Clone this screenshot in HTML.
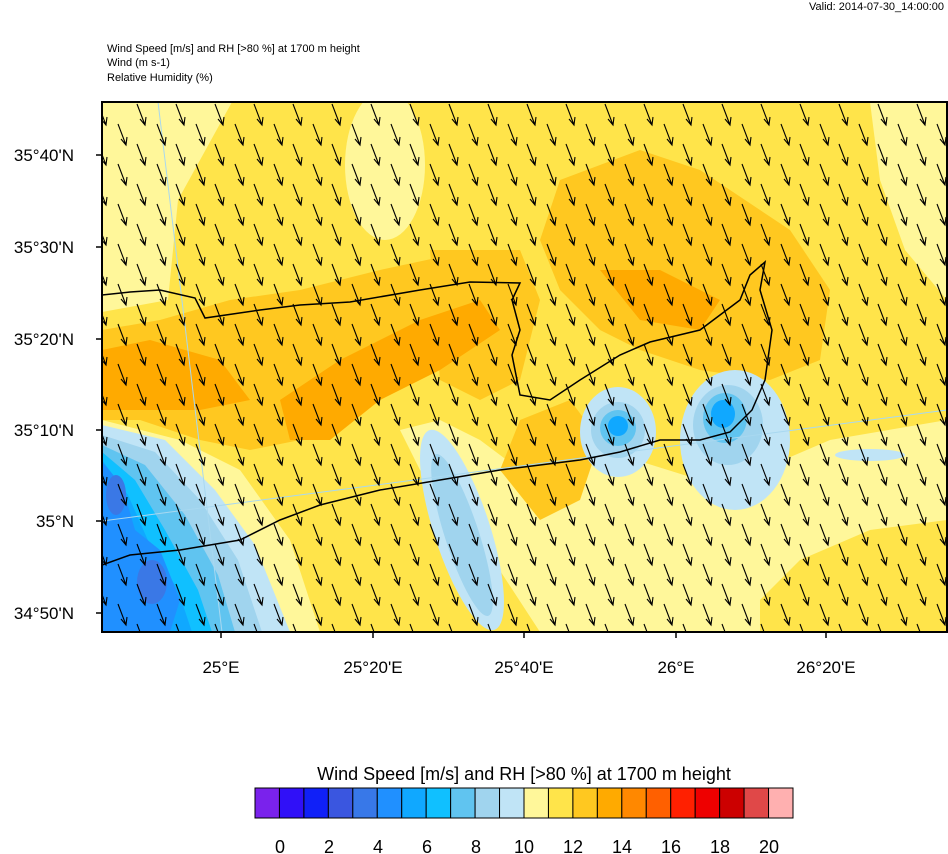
<!DOCTYPE html>
<html><head><style>
body{margin:0;background:#fff;width:948px;height:854px;overflow:hidden;font-family:"Liberation Sans",sans-serif}
</style></head><body>
<svg width="948" height="854" xmlns="http://www.w3.org/2000/svg" style="position:absolute;left:0;top:0">
<defs>
<clipPath id="c"><rect x="102" y="102" width="845" height="530"/></clipPath>
</defs>
<text x="944" y="10" font-size="11" text-anchor="end">Valid: 2014-07-30_14:00:00</text>
<text x="107" y="52" font-size="11">Wind Speed [m/s] and RH [&gt;80 %] at 1700 m height</text>
<text x="107" y="66" font-size="11">Wind   (m s-1)</text>
<text x="107" y="81" font-size="11">Relative Humidity   (%)</text>
<g clip-path="url(#c)">
<rect x="102" y="102" width="845" height="530" fill="#ffe44a"/>
<g>
<polygon points="102,102 232,102 178,200 168,300 102,312" fill="#fff79a"/>
<ellipse cx="385" cy="165" rx="40" ry="75" fill="#fff79a"/>
<polygon points="870,102 947,102 947,300 905,250 880,180" fill="#fff79a"/>
<polygon points="520,470 620,455 700,480 760,470 830,440 947,420 947,520 870,530 800,560 760,600 760,632 540,632 480,540 420,470 400,430 440,420 480,440" fill="#fff79a"/>
<polygon points="102,420 180,440 240,470 290,540 320,632 102,632" fill="#fff79a"/>
<polygon points="190,320 250,305 270,340 220,360 190,350" fill="#fff79a"/>
<polygon points="102,330 160,320 230,300 300,290 380,270 450,255 520,265 520,290 460,320 380,350 330,380 300,440 250,450 200,440 140,420 102,420" fill="#ffc820"/>
<polygon points="560,180 640,150 700,170 790,230 830,290 820,360 770,380 700,370 640,350 600,330 560,290 540,240" fill="#ffc820"/>
<polygon points="430,250 520,250 540,300 520,380 480,400 440,380" fill="#ffc820"/>
<polygon points="520,420 570,400 600,440 580,500 540,520 500,470" fill="#ffc820"/>
<polygon points="102,350 150,340 220,360 250,400 200,410 102,410" fill="#ffaa00"/>
<polygon points="280,400 340,360 420,320 480,300 500,330 440,370 380,400 330,440 290,440" fill="#ffaa00"/>
<polygon points="600,270 660,270 720,300 700,330 640,320" fill="#ffaa00"/>
<polygon points="102,425 165,440 215,490 255,545 290,632 102,632" fill="#c0e4f6"/>
<polygon points="102,435 155,452 200,500 238,560 262,632 102,632" fill="#a0d4ee"/>
<polygon points="102,445 145,465 185,515 218,575 235,632 102,632" fill="#60c4f0"/>
<polygon points="102,452 135,480 165,530 198,590 212,632 102,632" fill="#10c0ff"/>
<polygon points="102,460 128,495 150,545 178,590 192,632 102,632" fill="#10a8ff"/>
<polygon points="102,462 122,485 135,530 160,550 180,600 170,632 102,632" fill="#2090ff"/>
<ellipse cx="116" cy="495" rx="10" ry="20" fill="#3a78e6"/>
<ellipse cx="152" cy="582" rx="15" ry="22" fill="#3a78e6"/>
<ellipse cx="462" cy="530" rx="28" ry="105" fill="#c0e4f6" transform="rotate(-18 462 530)"/>
<ellipse cx="462" cy="535" rx="17" ry="85" fill="#a0d4ee" transform="rotate(-18 462 535)"/>
<ellipse cx="618" cy="432" rx="38" ry="45" fill="#c0e4f6"/>
<ellipse cx="618" cy="430" rx="27" ry="28" fill="#a0d4ee"/>
<ellipse cx="618" cy="428" rx="18" ry="18" fill="#60c4f0"/>
<ellipse cx="618" cy="426" rx="10" ry="10" fill="#10a8ff"/>
<ellipse cx="735" cy="440" rx="55" ry="70" fill="#c0e4f6"/>
<ellipse cx="728" cy="425" rx="35" ry="40" fill="#a0d4ee"/>
<ellipse cx="725" cy="418" rx="22" ry="25" fill="#60c4f0"/>
<ellipse cx="723" cy="414" rx="12" ry="14" fill="#10a8ff"/>
<ellipse cx="870" cy="455" rx="35" ry="6" fill="#c0e4f6"/>
</g>
<g stroke="#a8d8f0" stroke-width="1" fill="none">
<line x1="158" y1="102" x2="222" y2="632"/>
<line x1="102" y1="521" x2="947" y2="410"/>
</g>
<polyline fill="none" stroke="#000" stroke-width="1.5" points="102,295 130,292 160,290 195,298 205,318 260,310 300,305 350,302 420,290 470,282 520,283 512,300 520,330 512,355 520,395 550,400 580,380 620,355 650,342 700,330 740,300 750,275 765,262 760,290 772,330 765,380 752,410 730,432 700,440 660,440 620,452 580,460 540,465 500,470 440,480 380,490 320,505 280,520 240,540 180,550 130,555 102,565"/>
<g id="arrows" stroke="#000" stroke-width="1.1" fill="none"></g>
</g>
<rect x="102" y="102" width="845" height="530" fill="none" stroke="#000" stroke-width="2"/>
<g stroke="#000" stroke-width="1.5">
<line x1="96" y1="155" x2="102" y2="155"/><line x1="96" y1="247" x2="102" y2="247"/><line x1="96" y1="339" x2="102" y2="339"/><line x1="96" y1="430" x2="102" y2="430"/><line x1="96" y1="521" x2="102" y2="521"/><line x1="96" y1="613" x2="102" y2="613"/>
<line x1="221" y1="632" x2="221" y2="638"/><line x1="373" y1="632" x2="373" y2="638"/><line x1="524" y1="632" x2="524" y2="638"/><line x1="676" y1="632" x2="676" y2="638"/><line x1="826" y1="632" x2="826" y2="638"/>
</g>
<g font-size="17" text-anchor="end">
<text x="74" y="161">35°40'N</text><text x="74" y="253">35°30'N</text><text x="74" y="345">35°20'N</text><text x="74" y="436">35°10'N</text><text x="74" y="527">35°N</text><text x="74" y="619">34°50'N</text>
</g>
<g font-size="17" text-anchor="middle">
<text x="221" y="673">25°E</text><text x="373" y="673">25°20'E</text><text x="524" y="673">25°40'E</text><text x="676" y="673">26°E</text><text x="826" y="673">26°20'E</text>
</g>
<text x="524" y="780" font-size="18" text-anchor="middle">Wind Speed [m/s] and RH [&gt;80 %] at 1700 m height</text>
<g id="cb" stroke="#000" stroke-width="1"></g>
<g font-size="18" text-anchor="middle">
<text x="280" y="853">0</text><text x="329" y="853">2</text><text x="378" y="853">4</text><text x="427" y="853">6</text><text x="476" y="853">8</text><text x="524" y="853">10</text><text x="573" y="853">12</text><text x="622" y="853">14</text><text x="671" y="853">16</text><text x="720" y="853">18</text><text x="769" y="853">20</text>
</g>
</svg>
<script>
var cols=["#7a22ec","#3010f8","#1020f8","#3a56e0","#3878e8","#2090ff","#10a8ff","#10c0ff","#60c4f0","#a0d4ee","#c0e4f6","#fff79a","#ffe44a","#ffc820","#ffaa00","#ff8800","#ff6000","#ff2000","#ee0000","#cc0000","#e04848","#ffb0b0"];
var ns="http://www.w3.org/2000/svg",cb=document.getElementById("cb"),w=538/22;
cols.forEach(function(c,i){var r=document.createElementNS(ns,"rect");r.setAttribute("x",255+i*w);r.setAttribute("y",788);r.setAttribute("width",w);r.setAttribute("height",30);r.setAttribute("fill",c);cb.appendChild(r);});
var g=document.getElementById("arrows"),d="";
for(var row=0;row<28;row++){var y=104+row*20;var off=(row%2==0)?137:118;
for(var x=off-39*4;x<960;x+=39){var x2=x+8,y2=y+21;
d+="M"+x+" "+y+"L"+x2+" "+y2+"M"+(x2-5)+" "+(y2-6)+"L"+x2+" "+y2+"L"+(x2+1)+" "+(y2-8);}}
var p=document.createElementNS(ns,"path");p.setAttribute("d",d);g.appendChild(p);
</script>
</body></html>
